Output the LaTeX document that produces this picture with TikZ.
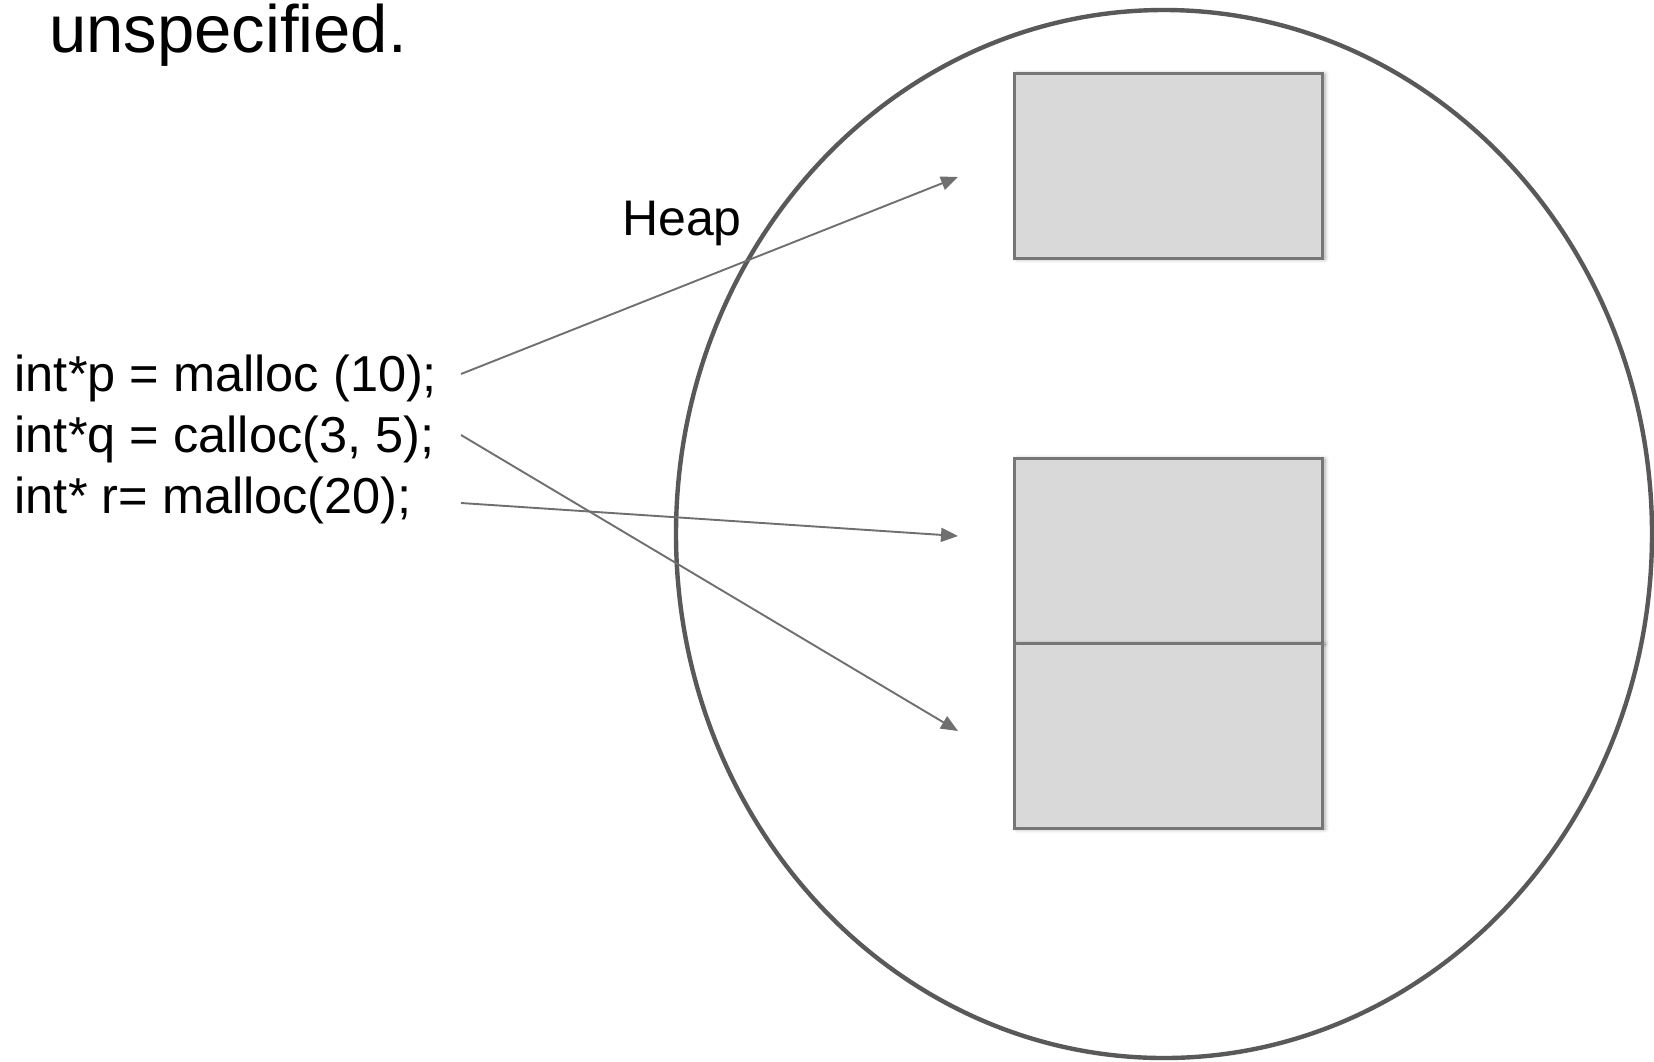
\documentclass[tikz,border=0pt]{standalone}
\usepackage{fontspec}
\setmainfont{Liberation Sans}
\usetikzlibrary{arrows.meta,shadows.blur}

\definecolor{ringgray}{HTML}{595959}
\definecolor{blockfill}{HTML}{D9D9D9}
\definecolor{blockline}{HTML}{767676}
\definecolor{arrowgray}{HTML}{6F6F6F}

\tikzset{
  heapring/.style={draw=ringgray, line width=4.4pt},
  memblock/.style={draw=blockline, fill=blockfill, line width=3pt,
    minimum width=308pt, minimum height=185pt, inner sep=0pt,
    blur shadow={shadow xshift=3pt, shadow yshift=-1pt, shadow blur steps=6,
      shadow blur radius=4pt, shadow opacity=35}},
  codeline/.style={anchor=base west, inner sep=0pt,
    font=\fontsize{50.5}{58}\selectfont},
  ptrarrow/.style={draw=arrowgray, line width=1.9pt,
    -{Triangle[length=17pt,width=14pt]}},
}

\begin{document}
\begin{tikzpicture}[x=1pt,y=-1pt]
  \useasboundingbox (0,0) rectangle (1654,1061);

  % heading fragment
  \node[anchor=base west, inner sep=0pt, font=\fontsize{67}{78}\selectfont]
    (title) at (49,52) {unspecified.};

  % the heap region
  \draw[heapring] (1164,534) ellipse [x radius=488, y radius=524];
  \node[anchor=base west, inner sep=0pt, font=\fontsize{50}{58}\selectfont]
    (heaplbl) at (622,235) {Heap};

  % allocated blocks
  \node[memblock] (blkp) at (1168,165.5) {};
  \node[memblock] (blkr) at (1168,550.5) {};
  \node[memblock] (blkq) at (1168,735.5) {};

  % allocation calls
  \node[codeline] (linep) at (14.5,391) {int*p = malloc (10);};
  \node[codeline] (lineq) at (14.5,452) {int*q = calloc(3, 5);};
  \node[codeline] (liner) at (14.5,513) {int* r= malloc(20);};

  % pointer ends
  \coordinate (pfrom) at (461,374);
  \coordinate (qfrom) at (461,435);
  \coordinate (rfrom) at (461,503);
  \coordinate (pto) at (958,177);
  \coordinate (qto) at (958,731);
  \coordinate (rto) at (958,536);

  \draw[ptrarrow] (pfrom) -- (pto);
  \draw[ptrarrow] (qfrom) -- (qto);
  \draw[ptrarrow] (rfrom) -- (rto);
\end{tikzpicture}
\end{document}
